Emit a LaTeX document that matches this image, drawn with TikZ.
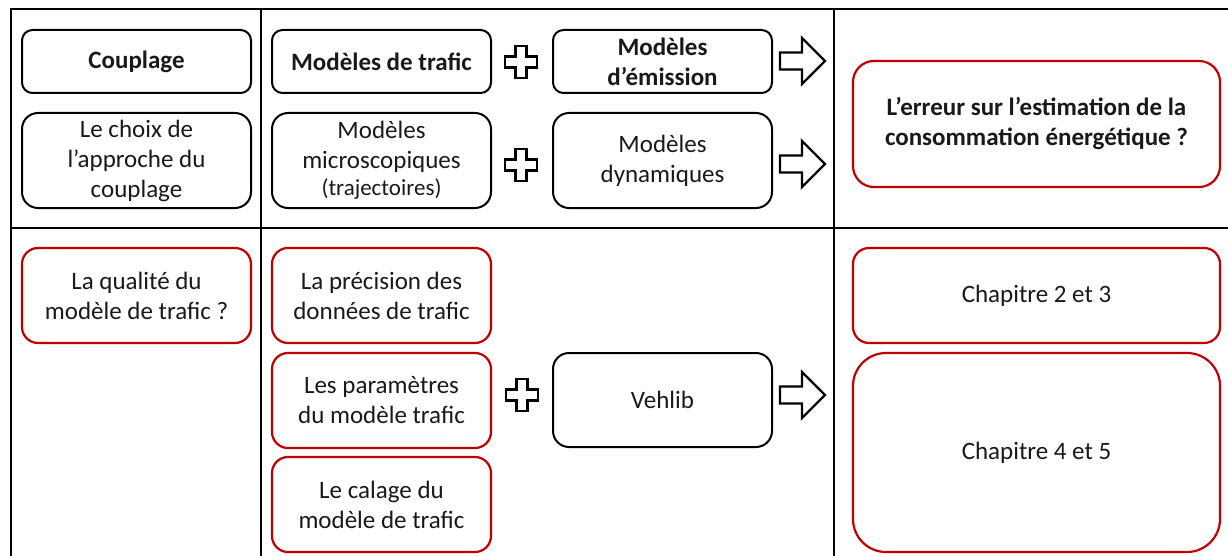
\documentclass[tikz,border=0pt]{standalone}
\usepackage{fontspec}
\setmainfont{Carlito}
\definecolor{txt}{RGB}{25,25,25}
\definecolor{redc}{RGB}{192,0,0}
\tikzset{
  plusmark/.pic={\draw[line width=2.2pt, fill=white, line join=miter]
    (-5.5,-16) -- (5.5,-16) -- (5.5,-5.5) -- (16,-5.5) -- (16,5.5) -- (5.5,5.5) -- (5.5,16)
    -- (-5.5,16) -- (-5.5,5.5) -- (-16,5.5) -- (-16,-5.5) -- (-5.5,-5.5) -- cycle;},
  blockarr/.pic={\draw[line width=2.2pt, fill=white, line join=miter]
    (0,-8.5) -- (22,-8.5) -- (22,-23) -- (45,0) -- (22,23) -- (22,8.5) -- (0,8.5) -- cycle;},
  bx/.style={draw=black, line width=2pt, rounded corners=#1, text=txt},
  rbx/.style={draw=redc, line width=2.2pt, rounded corners=#1, text=txt},
  grid/.style={line width=2.5pt, draw=black},
}
\begin{document}
\begin{tikzpicture}[x=1pt,y=-1pt,
  every node/.style={font=\fontsize{25}{30}\selectfont, align=center, inner sep=0pt}]
\useasboundingbox (0,0) rectangle (1228,556);
% table
\draw[grid] (11,556) -- (11,9) -- (1228,9);
\draw[grid] (11,228) -- (1228,228);
\draw[grid] (261,9) -- (261,556);
\draw[grid] (834,9) -- (834,556);
% row 1
\node[bx=10.5pt, minimum width=229pt, minimum height=63pt] (couplage) at (136.5,61.5) {\bfseries Couplage};
\node[bx=16pt, minimum width=229pt, minimum height=95pt] (choix) at (136.5,160.5) {Le choix de\\l’approche du\\couplage};
\node[bx=10.5pt, minimum width=219pt, minimum height=63pt] (trafic) at (381.5,61.5) {\bfseries Modèles de trafic};
\node[bx=16pt, minimum width=219pt, minimum height=95pt] (micro) at (381.5,160.5) {Modèles\\microscopiques\\[-3pt]{\fontsize{23}{26}\selectfont (trajectoires)}};
\node[bx=10.5pt, minimum width=219pt, minimum height=63pt] (emission) at (662.5,61.5) {\bfseries Modèles\\\bfseries d’émission};
\node[bx=16pt, minimum width=219pt, minimum height=95pt] (dyn) at (662.5,160.5) {Modèles\\dynamiques};
\node[rbx=21pt, minimum width=367pt, minimum height=126pt] (erreur) at (1036.5,124) {\bfseries L’erreur sur l’estimation de la\\\bfseries consommation énergétique ?};
\pic at (521,62) {plusmark};
\pic at (521,165) {plusmark};
\pic at (780,61) {blockarr};
\pic at (780,164) {blockarr};
% row 2
\node[rbx=16pt, minimum width=229pt, minimum height=95pt] (qualite) at (136.5,295.5) {La qualité du\\modèle de trafic ?};
\node[rbx=16pt, minimum width=219pt, minimum height=95pt] (precision) at (381.5,295.5) {La précision des\\données de trafic};
\node[rbx=16pt, minimum width=219pt, minimum height=95pt] (param) at (381.5,400.5) {Les paramètres\\du modèle trafic};
\node[rbx=16pt, minimum width=219pt, minimum height=95pt] (calage) at (381.5,504.5) {Le calage du\\modèle de trafic};
\node[bx=16pt, minimum width=219pt, minimum height=94pt] (vehlib) at (662.5,400) {Vehlib};
\node[rbx=16pt, minimum width=367pt, minimum height=95pt] (ch23) at (1036.5,295.5) {Chapitre 2 et 3};
\node[rbx=33pt, minimum width=367pt, minimum height=199pt] (ch45) at (1036.5,452.5) {Chapitre 4 et 5};
\pic at (522,395) {plusmark};
\pic at (780,395) {blockarr};
\end{tikzpicture}
\end{document}
